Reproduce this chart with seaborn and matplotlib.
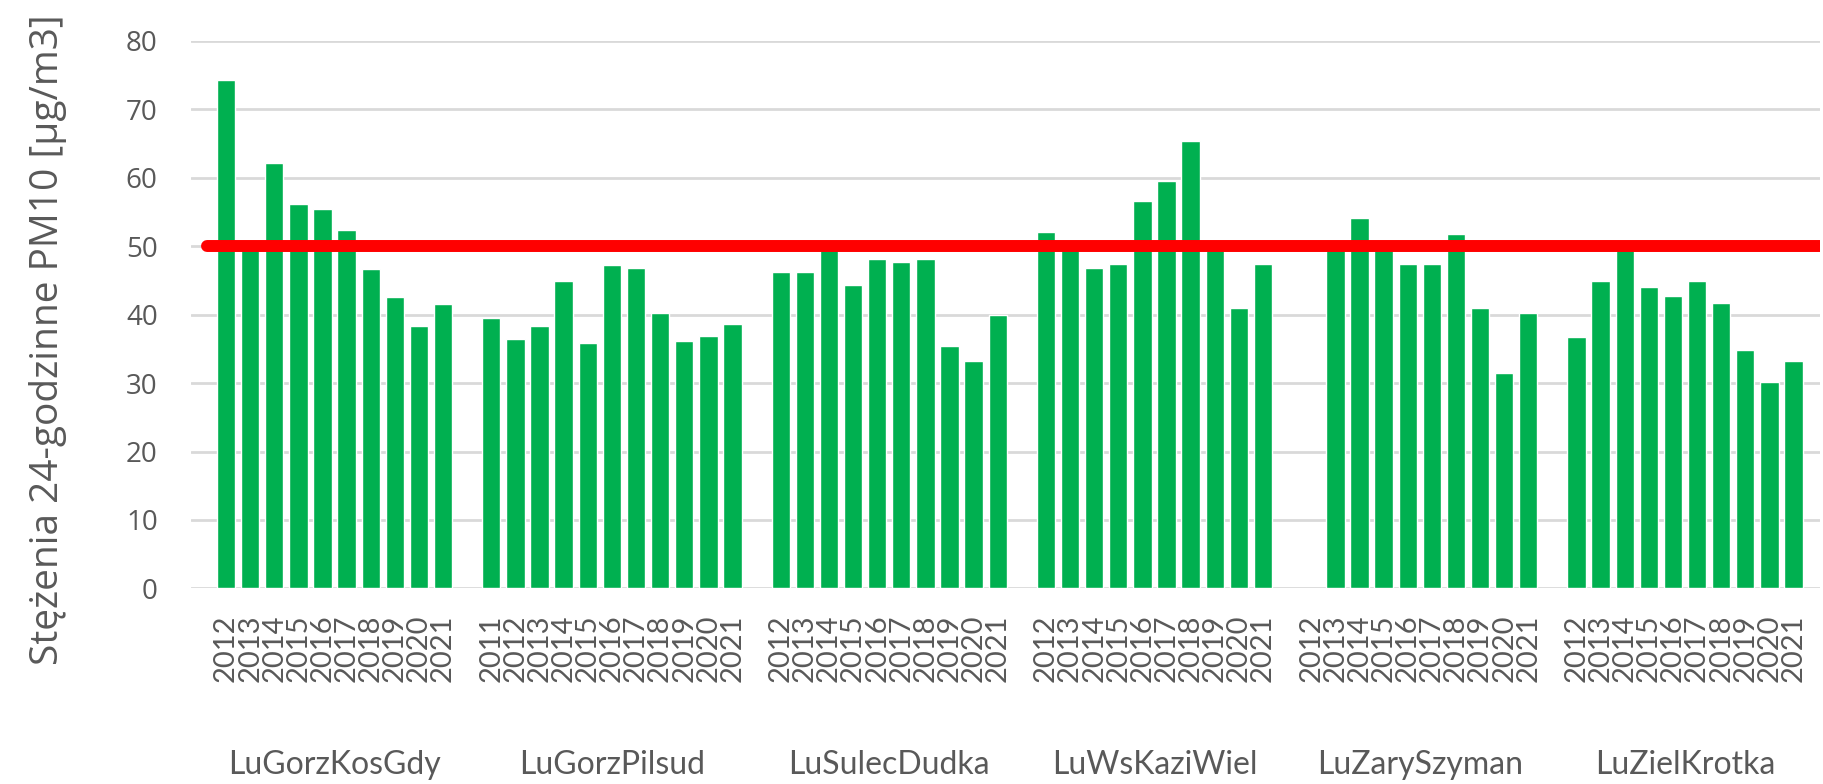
import numpy as np
import pandas as pd
import matplotlib
matplotlib.use("Agg")
import matplotlib.pyplot as plt
import seaborn as sns

# stacje i lata
stations = ["LuGorzKosGdy", "LuGorzPilsud", "LuSulecDudka", "LuWsKaziWiel", "LuZarySzyman", "LuZielKrotka"]
years_2012 = [str(y) for y in range(2012, 2022)]
years_2011 = [str(y) for y in range(2011, 2022)]

gorz_kos = [74.3, 49.8, 62.1, 56.1, 55.4, 52.4, 46.6, 42.5, 38.4, 41.5]
gorz_pil = [39.5, 36.4, 38.4, 44.9, 35.8, 47.2, 46.8, 40.2, 36.1, 36.8, 38.6]
sulec = [46.2, 46.2, 49.8, 44.3, 48.1, 47.7, 48.1, 35.4, 33.2, 39.9]
wschowa = [52.1, 49.8, 46.8, 47.4, 56.6, 59.5, 65.4, 49.8, 40.9, 47.4]
zary = [np.nan, 49.8, 54.1, 49.8, 47.4, 47.4, 51.8, 40.9, 31.5, 40.2]
ziel = [36.7, 44.9, 49.7, 44.0, 42.7, 44.9, 41.7, 34.9, 30.2, 33.2]

series = [gorz_kos, gorz_pil, sulec, wschowa, zary, ziel]
station_years = [years_2012, years_2011, years_2012, years_2012, years_2012, years_2012]
limit = 50  # norma dobowa PM10

# tabela + kolejnosc kategorii z pustymi przerwami miedzy stacjami
rows, order, tick_labels, centers = [], [], [], []
for i, (st, yrs, vals) in enumerate(zip(stations, station_years, series)):
    start = len(order)
    for y, v in zip(yrs, vals):
        key = st + "|" + y
        order.append(key)
        tick_labels.append(y)
        if not np.isnan(v):
            rows.append({"slot": key, "value": v})
    centers.append((start + len(order) - 1) / 2)
    if i < len(stations) - 1:
        order.append("gap" + str(i))
        tick_labels.append("")
df = pd.DataFrame(rows)

sns.set_theme(style="white")
plt.rcParams["font.family"] = ["Open Sans", "DejaVu Sans"]
grey = "#595959"

fig = plt.figure(figsize=(18.23, 7.84), dpi=100)
ax = fig.add_axes([0.1048, 0.2494, 0.8936, 0.6987])

ax.set_axisbelow(True)
ax.yaxis.grid(True, color="#d9d9d9", linewidth=2)
sns.barplot(data=df, x="slot", y="value", order=order, color="#00B050",
            saturation=1, width=0.76, ax=ax, errorbar=None)

ax.axhline(limit, xmin=0.01, xmax=1, color="#ff0000", linewidth=8.6,
           solid_capstyle="round", zorder=5)

ax.set_ylim(0, 80)
ax.set_xlim(-1.45, len(order) - 1 + 1.1)
ax.set_yticks(range(0, 81, 10))
ax.tick_params(axis="y", labelsize=20, labelcolor=grey, pad=24, length=0)
ax.set_xticks(range(len(order)))
ax.set_xticklabels(tick_labels, rotation=90, fontsize=21, color=grey, family="Lato")
ax.tick_params(axis="x", pad=19, length=0)
sns.despine(ax=ax, left=True, bottom=True, top=True, right=True)

ax.set_xlabel("")
ax.set_ylabel("Stężenia 24-godzinne PM10 [µg/m3]", fontsize=28, color=grey)
ax.yaxis.set_label_coords(-0.076, 0.4536)

# nazwy stacji pod latami
trans = ax.get_xaxis_transform()
for st, c in zip(stations, centers):
    ax.text(c, -0.322, st, transform=trans, ha="center", va="center",
            fontsize=23, color=grey, family="Lato")

plt.savefig("out.png", dpi=100)
